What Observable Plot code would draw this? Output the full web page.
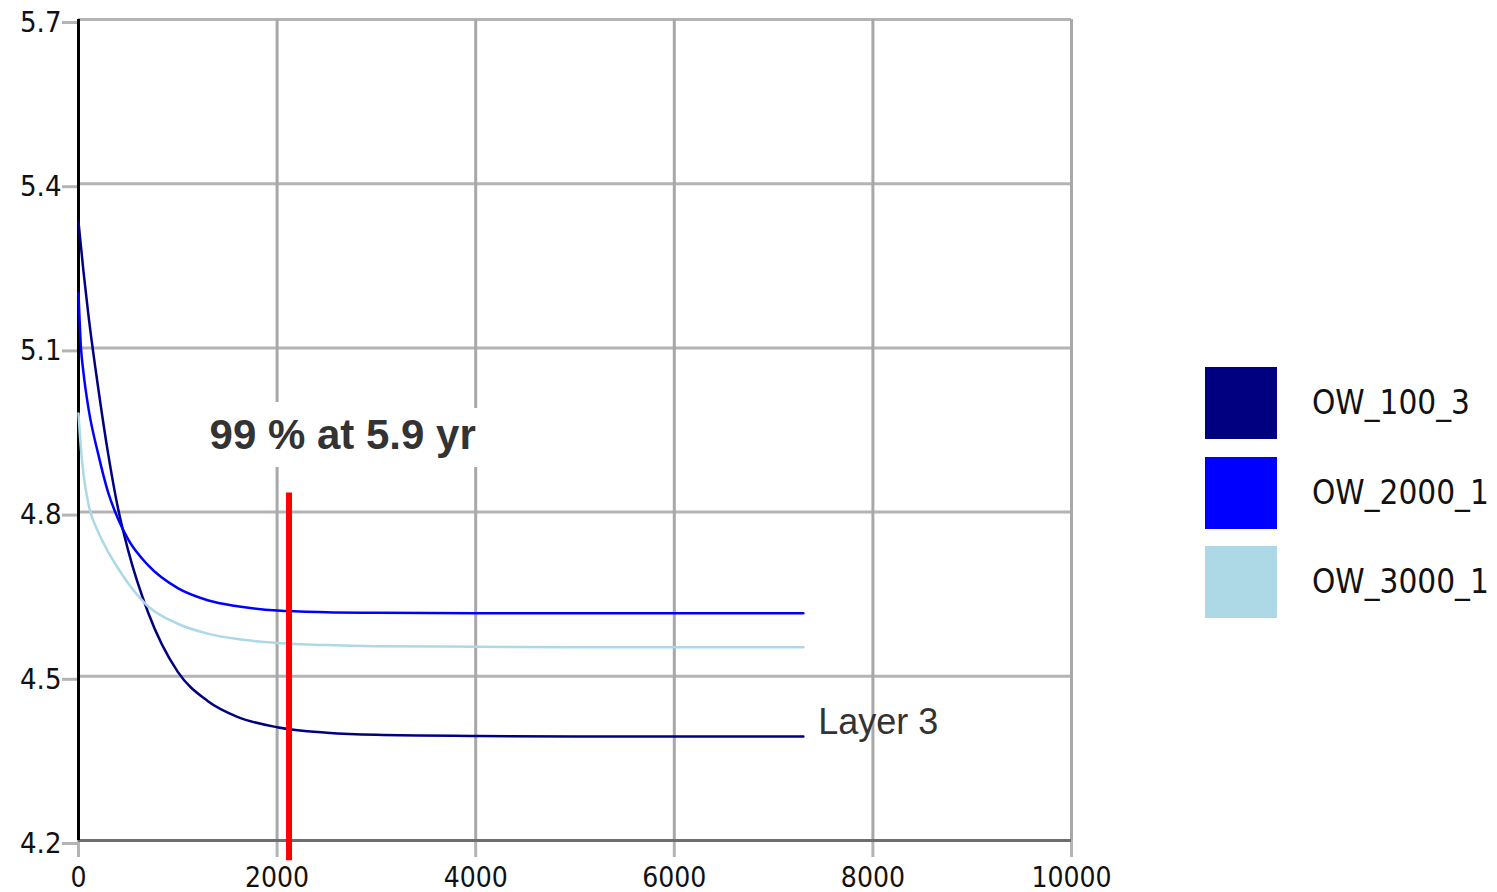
<!DOCTYPE html>
<html>
<head>
<meta charset="utf-8">
<script src="https://cdn.jsdelivr.net/npm/d3@7"></script>
<script src="https://cdn.jsdelivr.net/npm/@observablehq/plot@0.6"></script>
<style>
  html, body { margin: 0; padding: 0; background: #fff; }
  #wrap { position: relative; width: 1497px; height: 892px; }
  #legend { position: absolute; left: 1205px; top: 367px; font-family: "DejaVu Sans Condensed", "DejaVu Sans", sans-serif; font-stretch: condensed; font-size: 33px; color: #111; }
  .row { position: absolute; left: 0; height: 72px; width: 300px; }
  .sw { position: absolute; left: 0; top: 0; width: 72px; height: 72px; }
  .lab { position: absolute; left: 107px; top: 0; line-height: 72px; white-space: nowrap; }
</style>
</head>
<body>
<div id="wrap"><div id="chart"></div><div id="legend"></div></div>
<script>
// ---- data ----
const days = [0, 25, 50, 100, 200, 300, 400, 500, 700, 1000, 1300, 1600, 2000, 2500, 3000, 4000, 5000, 6000, 7300];
const ow100_3  = [5.33, 5.285, 5.24, 5.16, 5.025, 4.905, 4.805, 4.73, 4.617, 4.508, 4.455, 4.426, 4.407, 4.397, 4.393, 4.391, 4.39, 4.39, 4.39];
const ow2000_1 = [5.20, 5.10, 5.055, 4.99, 4.905, 4.835, 4.787, 4.75, 4.703, 4.661, 4.639, 4.628, 4.62, 4.617, 4.616, 4.615, 4.615, 4.615, 4.615];
const ow3000_1 = [4.98, 4.915, 4.87, 4.815, 4.763, 4.727, 4.697, 4.67, 4.628, 4.596, 4.578, 4.568, 4.561, 4.557, 4.555, 4.554, 4.553, 4.553, 4.553];
const seriesNames = ["OW_100_3", "OW_2000_1", "OW_3000_1"];
const seriesColors = ["#000080", "#0000ff", "#add8e6"];
const xTicks = [0, 2000, 4000, 6000, 8000, 10000];
const yTicks = [4.2, 4.5, 4.8, 5.1, 5.4, 5.7];
const markerDay = [2120];
const markerTop = 4.835, markerBottom = 4.163;
const annoText = ["99 % at 5.9 yr"], annoX = [2660], annoY = [4.94];
const layerText = ["Layer 3"], layerX = [7450], layerY = [4.416];

const seriesValues = [ow100_3, ow2000_1, ow3000_1];
const rows = [];
seriesNames.forEach((name, i) => days.forEach((d, j) => rows.push({name, day: d, value: seriesValues[i][j]})));

const tickFont = '"DejaVu Sans Condensed", "DejaVu Sans", sans-serif';

const chart = Plot.plot({
  width: 1497, height: 892,
  marginLeft: 78, marginTop: 19, marginRight: 426, marginBottom: 52,
  x: {domain: [0, 10000]},
  y: {domain: [4.2, 5.7]},
  color: {domain: seriesNames, range: seriesColors},
  style: {fontFamily: tickFont, background: "#fff", overflow: "visible"},
  marks: [
    Plot.gridY(yTicks, {stroke: "#b4b4b4", strokeOpacity: 1, strokeWidth: 3}),
    Plot.gridX(xTicks, {stroke: "#a8a8a8", strokeOpacity: 1, strokeWidth: 3}),
    Plot.axisY(yTicks, {tickSize: 16, tickPadding: 1, stroke: "#b4b4b4", strokeWidth: 3, fill: "#111", fontSize: 29, dy: 3, tickFormat: d => d.toFixed(1), label: null}),
    Plot.axisX(xTicks, {tickSize: 17, tickPadding: 10, stroke: "#b4b4b4", strokeWidth: 3, fill: "#111", fontSize: 28, tickFormat: d => String(d), label: null}),
    Plot.ruleY([4.2], {stroke: "#6e6e6e", strokeWidth: 3}),
    Plot.ruleX([0], {y1: 4.2, y2: 5.7, stroke: "#000", strokeWidth: 3}),
    Plot.text(annoText, {x: annoX, y: annoY, text: d => d, fontFamily: "Liberation Sans, Arial, sans-serif", fontWeight: "bold", fontSize: 42, fill: "#333", stroke: "#fff", strokeWidth: 36, strokeLinejoin: "miter", textAnchor: "middle", lineAnchor: "middle"}),
    Plot.line(rows, {x: "day", y: "value", z: "name", stroke: "name", strokeWidth: 2.5, curve: "monotone-x"}),
    Plot.ruleX(markerDay, {y1: markerTop, y2: markerBottom, stroke: "#ff0000", strokeWidth: 6}),
    Plot.text(layerText, {x: layerX, y: layerY, text: d => d, fontFamily: "Liberation Sans, Arial, sans-serif", fontSize: 36, fill: "#333", textAnchor: "start", lineAnchor: "middle"})
  ]
});
document.getElementById("chart").appendChild(chart);

const legend = document.getElementById("legend");
seriesNames.forEach((name, i) => {
  const row = document.createElement("div");
  row.className = "row";
  row.style.top = (i * 89.5) + "px";
  row.innerHTML = `<div class="sw" style="background:${seriesColors[i]}"></div><div class="lab">${name}</div>`;
  legend.appendChild(row);
});
</script>
</body>
</html>
